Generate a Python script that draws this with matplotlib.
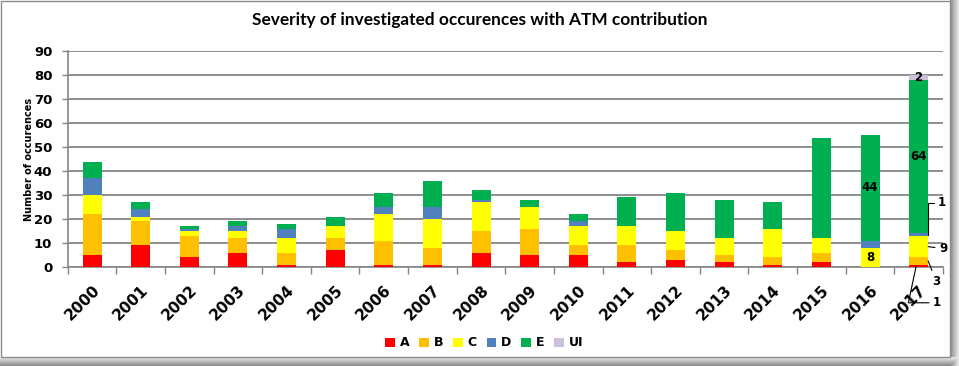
import matplotlib
matplotlib.use("Agg")
import matplotlib.pyplot as plt
from matplotlib.patches import Patch, Rectangle
import numpy as np

years = [str(y) for y in range(2000, 2018)]
sev_a = [5, 9, 4, 6, 1, 7, 1, 1, 6, 5, 5, 2, 3, 2, 1, 2, 0, 1]
sev_b = [17, 10, 9, 6, 5, 5, 10, 7, 9, 11, 4, 7, 4, 3, 3, 4, 0, 3]
sev_c = [8, 2, 2, 3, 6, 5, 11, 12, 12, 9, 8, 8, 8, 7, 12, 6, 8, 9]
sev_d = [7, 3, 1, 2, 4, 0, 3, 5, 1, 0, 2, 0, 0, 0, 0, 0, 3, 1]
sev_e = [7, 3, 1, 2, 2, 4, 6, 11, 4, 3, 3, 12, 16, 16, 11, 42, 44, 64]
sev_ui = [0] * 17 + [2]

series = [("A", sev_a, "#FF0000"), ("B", sev_b, "#FFC000"), ("C", sev_c, "#FFFF00"),
          ("D", sev_d, "#4F81BD"), ("E", sev_e, "#00B050"), ("UI", sev_ui, "#CCC0DA")]

fig = plt.figure(figsize=(9.59, 3.66), dpi=100)
ax = fig.add_axes([0.0706, 0.2705, 0.9127, 0.5893])

x = np.arange(len(years))
width = 0.39
bottom = np.zeros(len(years))
for name, vals, col in series:
    vals = np.array(vals, dtype=float)
    ax.bar(x, vals, width, bottom=bottom, color=col, zorder=3)
    bottom += vals

ax.set_xlim(-0.5, len(years) - 0.5)
ax.set_ylim(0, 90)
ax.set_yticks(range(0, 91, 10))
ax.set_xticks(x)
ax.set_xticklabels(years, rotation=45, ha="right", rotation_mode="anchor",
                   fontsize=11, fontweight="bold")
ax.set_xticks(np.arange(-0.5, len(years), 1), minor=True)
ax.tick_params(axis="x", which="major", length=0, pad=11)
ax.tick_params(axis="x", which="minor", length=5, color="#868686", width=1)
ax.tick_params(axis="y", length=4, color="#868686", width=1, pad=7)
for lab in ax.get_yticklabels():
    lab.set_fontsize(9.5)
    lab.set_fontweight("bold")

ax.grid(axis="y", color="#868686", linewidth=1.3, zorder=0)
for s in ["top", "right"]:
    ax.spines[s].set_visible(False)
for s in ["left", "bottom"]:
    ax.spines[s].set_color("#868686")
    ax.spines[s].set_linewidth(1.2)

ax.set_ylabel("Number of occurences", fontsize=7, fontweight="bold", labelpad=0)

fig.text(0.5, 0.945, "Severity of investigated occurences with ATM contribution",
         ha="center", va="center", fontsize=12.4, fontweight="bold", family="Lato")

# data labels
lbl = dict(ha="center", va="center", fontsize=8.5, fontweight="bold", zorder=5)
ax.text(16, sev_c[16] / 2, str(sev_c[16]), **lbl)
ax.text(16, sev_c[16] + sev_d[16] + sev_e[16] / 2, str(sev_e[16]), **lbl)
base17 = sev_a[17] + sev_b[17] + sev_c[17] + sev_d[17]
ax.text(17, base17 + sev_e[17] / 2, str(sev_e[17]), **lbl)
ax.text(17, base17 + sev_e[17] + sev_ui[17] / 2, str(sev_ui[17]), **lbl)

edge = 17 + width / 2
leader = dict(arrowstyle="-", color="black", lw=0.8, shrinkA=1, shrinkB=0)
ax.annotate(str(sev_d[17]), xy=(edge, sev_a[17] + sev_b[17] + sev_c[17] + sev_d[17] / 2),
            xytext=(14, 32), textcoords="offset pixels", ha="center", va="center",
            fontsize=8.5, fontweight="bold", annotation_clip=False,
            arrowprops=dict(connectionstyle="angle,angleA=0,angleB=90,rad=0", **leader))
ax.annotate(str(sev_c[17]), xy=(edge, sev_a[17] + sev_b[17] + sev_c[17] / 2),
            xytext=(15, -2), textcoords="offset pixels", ha="center", va="center",
            fontsize=8.5, fontweight="bold", annotation_clip=False,
            arrowprops=leader)
ax.annotate(str(sev_b[17]), xy=(edge, sev_a[17] + sev_b[17] / 2),
            xytext=(8, -20), textcoords="offset pixels", ha="center", va="center",
            fontsize=8.5, fontweight="bold", annotation_clip=False,
            arrowprops=leader)
ax.annotate(str(sev_a[17]), xy=(17 - 0.05, sev_a[17] / 2),
            xytext=(21, -37), textcoords="offset pixels", ha="center", va="center",
            fontsize=8.5, fontweight="bold", annotation_clip=False,
            arrowprops=dict(connectionstyle="angle,angleA=0,angleB=78,rad=0", **leader))

handles = [Patch(facecolor=c, label=n) for n, _, c in series]
leg = fig.legend(handles=handles, loc="center", bbox_to_anchor=(0.505, 0.063), ncol=6,
                 frameon=False, handlelength=0.75, handleheight=0.75, handletextpad=0.4,
                 columnspacing=0.8, prop={"weight": "bold", "size": 9})

# chart frame with shadow
fig.patches.append(Rectangle((0, 0), 1, 1, transform=fig.transFigure, facecolor="white",
                             edgecolor="none", zorder=-10))
for i in range(9):
    g = 0.55 + i * 0.045
    fig.patches.append(Rectangle((950 + i, 0), 1, 366, transform=None,
                                 facecolor=str(g), edgecolor="none", zorder=-5))
    fig.patches.append(Rectangle((0, i), 959, 1, transform=None,
                                 facecolor=str(g), edgecolor="none", zorder=-5))
fig.patches.append(Rectangle((0.5, 9), 949.5, 356.5, transform=None, facecolor="none",
                             edgecolor="#8C8C8C", linewidth=1, zorder=-4))

fig.savefig("out.png", dpi=100)
